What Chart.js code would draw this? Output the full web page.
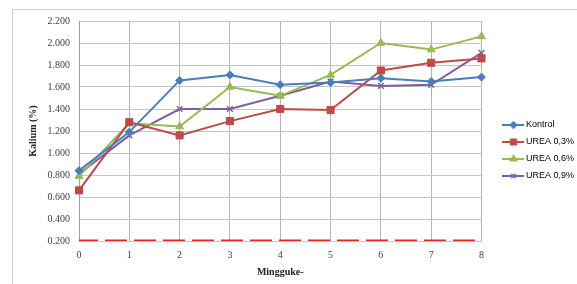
<!DOCTYPE html>
<html>
<head>
<meta charset="utf-8">
<script src="https://cdn.jsdelivr.net/npm/chart.js@4.4.0/dist/chart.umd.min.js"></script>
<style>
  html, body { margin: 0; padding: 0; background: #fff; }
  #wrap { position: relative; width: 577px; height: 284px; overflow: hidden; }
  #frame { position: absolute; left: 12px; top: 9px; width: 620px; height: 320px; border: 1px solid #d0d0d0; }
  canvas { position: absolute; left: 0; top: 0; }
</style>
</head>
<body>
<div id="wrap">
  <div id="frame"></div>
  <canvas id="kaliumChart" width="577" height="284"></canvas>
</div>
<script>
// data
const weeks = ['0', '1', '2', '3', '4', '5', '6', '7', '8'];
const kontrol = [0.84, 1.19, 1.66, 1.71, 1.62, 1.64, 1.68, 1.65, 1.69];
const urea03 = [0.66, 1.28, 1.16, 1.29, 1.40, 1.39, 1.75, 1.82, 1.86];
const urea06 = [0.79, 1.27, 1.24, 1.60, 1.52, 1.71, 2.00, 1.94, 2.06];
const urea09 = [0.81, 1.16, 1.40, 1.40, 1.52, 1.65, 1.61, 1.62, 1.91];
// red dashed reference line along the bottom
const batas = [0.2, 0.2, 0.2, 0.2, 0.2, 0.2, 0.2, 0.2, 0.2];
const seriesNames = ['Kontrol', 'UREA 0,3%', 'UREA 0,6%', 'UREA 0,9%'];
const yMin = 0.2;
const yMax = 2.2;
const yStep = 0.2;

const colors = ['#4a7ebb', '#be4b48', '#98b954', '#7d60a0'];
const styles = ['rectRot', 'rect', 'triangle', 'crossRot'];
const radii = [4, 5, 4.5, 4];

// little line + marker picture for the legend, like Excel
function legendSymbol(color, style, radius) {
  const c = document.createElement('canvas');
  c.width = 22;
  c.height = 10;
  const g = c.getContext('2d');
  g.strokeStyle = color;
  g.fillStyle = color;
  g.lineWidth = 2;
  g.beginPath();
  g.moveTo(0, 5);
  g.lineTo(22, 5);
  g.stroke();
  g.lineWidth = 1.5;
  Chart.helpers.drawPoint(g, { pointStyle: style, radius: radius * 0.8, borderWidth: 1.5, rotation: 0 }, 11, 5);
  return c;
}

const allSeries = [kontrol, urea03, urea06, urea09];
const datasets = allSeries.map((vals, i) => ({
  label: seriesNames[i],
  data: vals,
  borderColor: colors[i],
  backgroundColor: colors[i],
  borderWidth: 2,
  tension: 0,
  pointStyle: styles[i],
  pointRadius: radii[i],
  pointBorderWidth: i === 3 ? 1.5 : 1,
  pointBorderColor: colors[i],
  pointBackgroundColor: colors[i],
  order: 1
}));

datasets.push({
  label: 'batas',
  data: batas,
  borderColor: '#ee2222',
  borderWidth: 3,
  borderDash: [22, 7],
  borderDashOffset: 3,
  pointRadius: 0,
  order: 5
});

const ctx = document.getElementById('kaliumChart').getContext('2d');

new Chart(ctx, {
  type: 'line',
  data: { labels: weeks, datasets: datasets },
  options: {
    responsive: false,
    animation: false,
    devicePixelRatio: 1,
    layout: { padding: { left: 20, right: -7, top: 21, bottom: 4 } },
    scales: {
      x: {
        offset: false,
        afterFit: (s) => { s.height = 39; },
        grid: { color: '#b4b4b4', drawTicks: false },
        border: { display: false },
        ticks: {
          padding: 8,
          color: '#404040',
          font: { family: 'Liberation Serif', size: 10 }
        },
        title: {
          display: true,
          text: 'Mingguke-',
          color: '#222',
          padding: { top: 0, bottom: 1.5 },
          font: { family: 'Liberation Serif', size: 10, weight: 'bold' }
        }
      },
      y: {
        min: yMin,
        max: yMax,
        afterFit: (s) => { s.width = 59; },
        grid: { color: '#c4c4c4', drawTicks: false },
        border: { color: '#a0a0a0' },
        ticks: {
          stepSize: yStep,
          padding: 9,
          color: '#404040',
          font: { family: 'Liberation Serif', size: 10 },
          callback: (v) => Number(v).toFixed(3)
        },
        title: {
          display: true,
          text: 'Kalium (%)',
          color: '#222',
          padding: { top: 7, bottom: 0 },
          font: { family: 'Liberation Serif', size: 10, weight: 'bold' }
        }
      },
      // empty spacer between plot and legend
      gap: {
        type: 'linear',
        position: 'right',
        display: true,
        afterFit: (s) => { s.width = 16; },
        grid: { display: false },
        border: { display: false },
        ticks: { display: false }
      }
    },
    plugins: {
      legend: {
        position: 'right',
        labels: {
          usePointStyle: true,
          pointStyleWidth: 16,
          padding: 8,
          color: '#404040',
          font: { family: 'Liberation Sans', size: 9 },
          generateLabels: (chart) => chart.data.datasets.slice(0, 4).map((d, i) => ({
            text: d.label,
            pointStyle: legendSymbol(colors[i], styles[i], radii[i]),
            fillStyle: colors[i],
            strokeStyle: colors[i],
            lineWidth: 0,
            hidden: false,
            datasetIndex: i
          }))
        }
      },
      tooltip: { enabled: false }
    }
  }
});
</script>
</body>
</html>
